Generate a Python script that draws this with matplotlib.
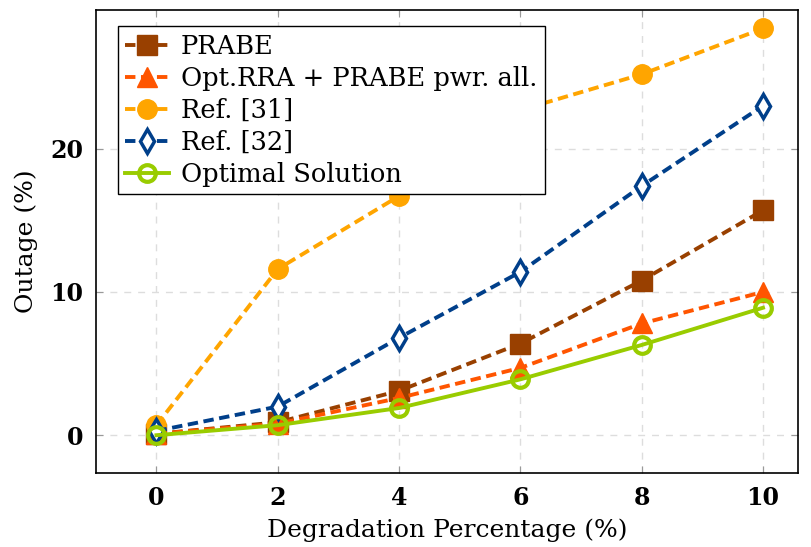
import matplotlib.pyplot as plt

plt.rcParams['font.family'] = ['DejaVu Serif']
plt.rcParams['lines.scale_dashes'] = False

# Data
degradation = [0, 2, 4, 6, 8, 10]
prabe = [0.1, 0.9, 3.1, 6.4, 10.8, 15.7]
opt_rra = [0.1, 0.8, 2.6, 4.7, 7.8, 10.0]
ref31 = [0.7, 11.6, 16.7, 22.7, 25.2, 28.4]
ref32 = [0.3, 2.0, 6.8, 11.4, 17.4, 23.0]
optimal = [0.0, 0.7, 1.9, 3.9, 6.3, 8.9]

x_ticks = [0, 2, 4, 6, 8, 10]
y_ticks = [0, 10, 20]

fig = plt.figure(figsize=(8.12, 5.47), dpi=100)
ax = fig.add_axes([0.118, 0.135, 0.865, 0.847])

dash = (7.5, 4.0)
lw = 2.8

ax.plot(degradation, prabe, color='#994000', lw=lw, dashes=dash,
        marker='s', markersize=14, label='PRABE')
ax.plot(degradation, opt_rra, color='#FF5500', lw=lw, dashes=dash,
        marker='^', markersize=14, label='Opt.RRA + PRABE pwr. all.')
ax.plot(degradation, ref31, color='#FFA500', lw=lw, dashes=dash,
        marker='o', markersize=14, label='Ref. [31]')
ax.plot(degradation, ref32, color='#003F8A', lw=lw, dashes=dash,
        marker='d', markersize=12, markerfacecolor='white',
        markeredgewidth=2.5, label='Ref. [32]')
ax.plot(degradation, optimal, color='#99CC00', lw=lw,
        marker='o', markersize=12, markerfacecolor='none',
        markeredgewidth=3, label='Optimal Solution')

ax.set_xlim(-1.0, 10.58)
ax.set_ylim(-2.65, 29.7)
ax.set_xticks(x_ticks)
ax.set_yticks(y_ticks)
for lab in ax.get_xticklabels() + ax.get_yticklabels():
    lab.set_fontweight('bold')
ax.tick_params(direction='in', length=5, color='#999999', labelsize=17,
               top=True, right=True, pad=9)
ax.grid(True, color='#dddddd', linestyle=(0, (5, 5)), lw=1)
ax.set_axisbelow(True)
for s in ax.spines.values():
    s.set_linewidth(1.2)

ax.set_xlabel('Degradation Percentage (%)', fontsize=18, labelpad=6)
ax.set_ylabel('Outage (%)', fontsize=18, labelpad=9)

ax.legend(loc='upper left', bbox_to_anchor=(0.031, 0.965), fontsize=18.5,
          frameon=True, fancybox=False, edgecolor='black', framealpha=1,
          borderpad=0.3, labelspacing=0.27, handlelength=1.7,
          handletextpad=0.45, borderaxespad=0)

fig.savefig('out.png', dpi=100)
